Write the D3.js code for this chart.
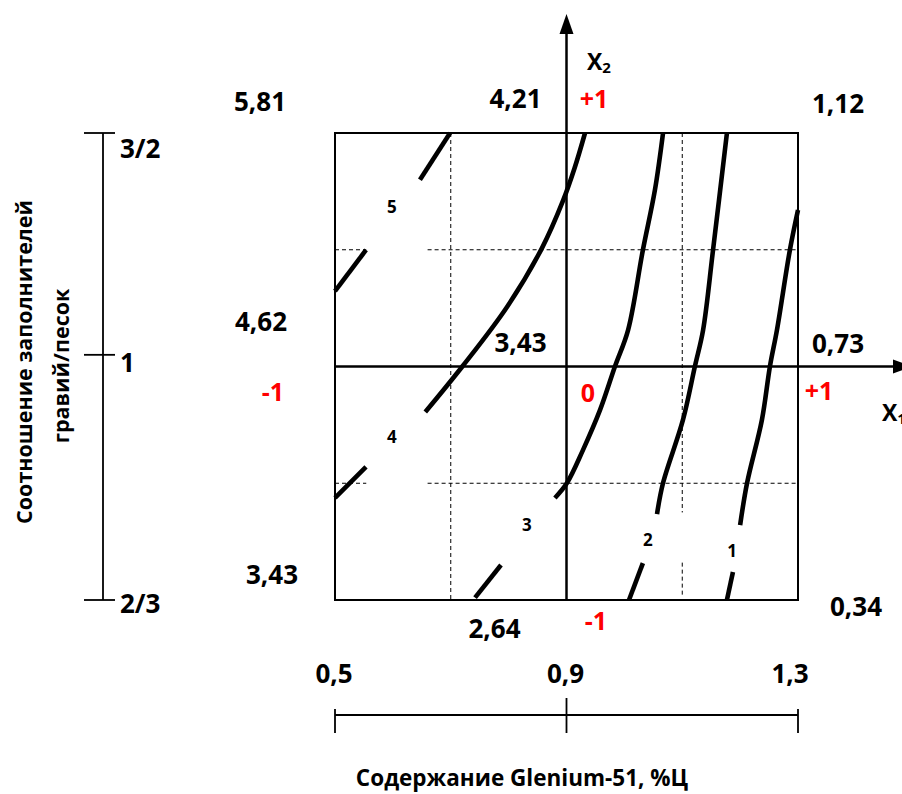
<!DOCTYPE html>
<html><head><meta charset="utf-8">
<script src="https://cdn.jsdelivr.net/npm/d3@7"></script>
<style>
body{margin:0;background:#fff;}
svg{display:block;}
text{font-family:"Open Sans",sans-serif;font-weight:700;fill:#000;}
</style>
</head><body>
<svg id="chart" width="902" height="794"></svg>
<script>
// ---------------- DATA ----------------
// coded factor levels of the design grid
const gridLevels = [-1, 0, 1];
// response values at the grid nodes (rows: X2 = +1, 0, -1; columns: X1 = -1, 0, +1)
const rowTop    = ["5,81", "4,21", "1,12"];
const rowMiddle = ["4,62", "3,43", "0,73"];
const rowBottom = ["3,43", "2,64", "0,34"];
// coded labels shown in red
const codedText = ["+1", "-1", "0", "+1", "-1"];
const codedAt   = [[0, 1], [-1, 0], [0, 0], [1, 0], [0, -1]];
// natural axes
const gleniumTicks  = [0.5, 0.9, 1.3];
const gleniumLabels = ["0,5", "0,9", "1,3"];
const ratioLabels   = ["3/2", "1", "2/3"];
const ratioCoded    = [1, 0.05, -1];
// contour lines (coded X1, X2), each split in pieces around its label
const contour1 = [[[1.0, 0.67], [0.965, 0.499], [0.909, 0.156], [0.879, 0.002], [0.844, -0.229], [0.78, -0.499], [0.75, -0.679]],
                  [[0.719, -0.88], [0.693, -1.0]]];
const contour2 = [[[0.693, 1.0], [0.633, 0.499], [0.59, 0.156], [0.555, 0.002], [0.503, -0.229], [0.417, -0.499], [0.391, -0.632]],
                  [[0.33, -0.842], [0.27, -1.0]]];
const contour3 = [[[0.417, 1.0], [0.382, 0.756], [0.33, 0.499], [0.266, 0.156], [0.21, 0.002], [0.145, -0.186], [0.071, -0.358], [0.002, -0.499], [-0.05, -0.563]],
                  [[-0.283, -0.85], [-0.395, -0.99]]];
const contour4 = [[[0.08, 1.0], [0.035, 0.85], [-0.015, 0.71], [-0.106, 0.507], [-0.257, 0.255], [-0.45, 0.0], [-0.61, -0.195]],
                  [[-0.866, -0.43], [-1.0, -0.563]]];
const contour5 = [[[-0.503, 1.0], [-0.633, 0.8]],
                  [[-0.866, 0.499], [-1.0, 0.323]]];
const contourNames  = ["1", "2", "3", "4", "5"];
const contourLabelAt = [[0.715, -0.79], [0.352, -0.743], [-0.171, -0.675], [-0.754, -0.298], [-0.754, 0.687]];
// dashed guide lines (coded) with gaps
const guideV = [[-0.5, [[1, -1]]], [0.5, [[1, -0.625], [-0.84, -0.98]]]];
const guideH = [[0.5, [[-1, -0.865], [-0.6, 1]]], [-0.5, [[-1, -0.865], [-0.6, 1]]]];

// ---------------- LAYOUT ----------------
const svg = d3.select("#chart");
const x = d3.scaleLinear().domain([-1, 1]).range([335, 798]);
const y = d3.scaleLinear().domain([-1, 1]).range([600, 133]);
const gx = d3.scaleLinear().domain([0.5, 1.3]).range([335, 798]);

// dashed guides
guideV.forEach(([v, segs]) => segs.forEach(s => {
  svg.append("line").attr("x1", x(v)).attr("x2", x(v)).attr("y1", y(s[0])).attr("y2", y(s[1]))
    .attr("stroke", "#000").attr("stroke-width", 1).attr("stroke-dasharray", "4,3");
}));
guideH.forEach(([v, segs]) => segs.forEach(s => {
  svg.append("line").attr("y1", y(v)).attr("y2", y(v)).attr("x1", x(s[0])).attr("x2", x(s[1]))
    .attr("stroke", "#000").attr("stroke-width", 1).attr("stroke-dasharray", "4,3");
}));

// frame
svg.append("rect").attr("x", x(-1)).attr("y", y(1)).attr("width", x(1) - x(-1)).attr("height", y(-1) - y(1))
  .attr("fill", "none").attr("stroke", "#000").attr("stroke-width", 2);

// axes X1, X2 with arrows
svg.append("line").attr("x1", x(-1)).attr("x2", 895).attr("y1", y(0)).attr("y2", y(0)).attr("stroke", "#000").attr("stroke-width", 2.5);
svg.append("path").attr("d", `M893,${y(0)-7}L913,${y(0)}L893,${y(0)+7}Z`).attr("fill", "#000");
svg.append("line").attr("x1", x(0)).attr("x2", x(0)).attr("y1", y(-1)).attr("y2", 30).attr("stroke", "#000").attr("stroke-width", 2.5);
svg.append("path").attr("d", `M${x(0)-7},34L${x(0)},14L${x(0)+7},34Z`).attr("fill", "#000");

// contours
const line = d3.line().x(d => x(d[0])).y(d => y(d[1])).curve(d3.curveCatmullRom.alpha(0.5));
[contour1, contour2, contour3, contour4, contour5].forEach(c => c.forEach(seg => {
  svg.append("path").attr("d", line(seg)).attr("fill", "none").attr("stroke", "#000").attr("stroke-width", 4.6);
}));
contourNames.forEach((n, i) => {
  svg.append("text").attr("x", x(contourLabelAt[i][0])).attr("y", y(contourLabelAt[i][1]))
    .attr("text-anchor", "middle").attr("dominant-baseline", "central").attr("font-size", 17).text(n);
});

// response values
const valueOffsets = [[[-75, -22], [-51, -25], [40, -20]],
                      [[-74, -36], [-46, -15], [40, -14]],
                      [[-63, -16], [-72, 38], [58, 16]]];
const rowLevels = [1, 0, -1];
[rowTop, rowMiddle, rowBottom].forEach((row, r) => row.forEach((v, c) => {
  svg.append("text").attr("x", x(gridLevels[c]) + valueOffsets[r][c][0]).attr("y", y(rowLevels[r]) + valueOffsets[r][c][1])
    .attr("text-anchor", "middle").attr("font-size", 26).text(v);
}));

// coded red labels
const codedOffsets = [[27.5, -25], [-62, 34.5], [21.5, 35.5], [21, 33.5], [29.5, 30]];
codedText.forEach((t, i) => {
  svg.append("text").attr("x", x(codedAt[i][0]) + codedOffsets[i][0]).attr("y", y(codedAt[i][1]) + codedOffsets[i][1])
    .attr("text-anchor", "middle").attr("font-size", 25).style("fill", "#ff0000").text(t);
});

// axis names X2, X1
const x2t = svg.append("text").attr("x", 587).attr("y", 70).attr("font-size", 23);
x2t.append("tspan").text("X");
x2t.append("tspan").attr("font-size", 15).attr("dy", 3).text("2");
const x1t = svg.append("text").attr("x", 882).attr("y", 421).attr("font-size", 23);
x1t.append("tspan").text("X");
x1t.append("tspan").attr("font-size", 15).attr("dy", 3).text("1");

// bottom natural axis
const axY = 715;
svg.append("line").attr("x1", gx(0.5)).attr("x2", gx(1.3)).attr("y1", axY).attr("y2", axY).attr("stroke", "#000").attr("stroke-width", 1.8);
gleniumTicks.forEach((t, i) => {
  svg.append("line").attr("x1", gx(t)).attr("x2", gx(t)).attr("y1", i === 1 ? axY - 17 : axY - 6).attr("y2", axY + 18)
    .attr("stroke", "#000").attr("stroke-width", 1.8);
  svg.append("text").attr("x", gx(t) + (i === 2 ? -8 : -1)).attr("y", 683).attr("text-anchor", "middle").attr("font-size", 26).text(gleniumLabels[i]);
});
svg.append("text").attr("x", 522).attr("y", 786).attr("text-anchor", "middle").attr("font-size", 22.5).text("Содержание Glenium-51, %Ц");

// left natural axis
const lx = 103;
svg.append("line").attr("x1", lx).attr("x2", lx).attr("y1", y(1)).attr("y2", y(-1)).attr("stroke", "#000").attr("stroke-width", 1.8);
const ratioLabelDy = [15, 7, 3];
ratioLabels.forEach((t, i) => {
  svg.append("line").attr("x1", lx - 19).attr("x2", lx + 12).attr("y1", y(ratioCoded[i])).attr("y2", y(ratioCoded[i]))
    .attr("stroke", "#000").attr("stroke-width", 1.8);
  svg.append("text").attr("x", 120).attr("y", y(ratioCoded[i]) + ratioLabelDy[i]).attr("dominant-baseline", "central")
    .attr("font-size", 26).text(t);
});
svg.append("text").attr("transform", "translate(32,362) rotate(-90)").attr("text-anchor", "middle").attr("font-size", 21.5).text("Соотношение заполнителей");
svg.append("text").attr("transform", "translate(69,366) rotate(-90)").attr("text-anchor", "middle").attr("font-size", 21.5).text("гравий/песок");
</script>
</body></html>
